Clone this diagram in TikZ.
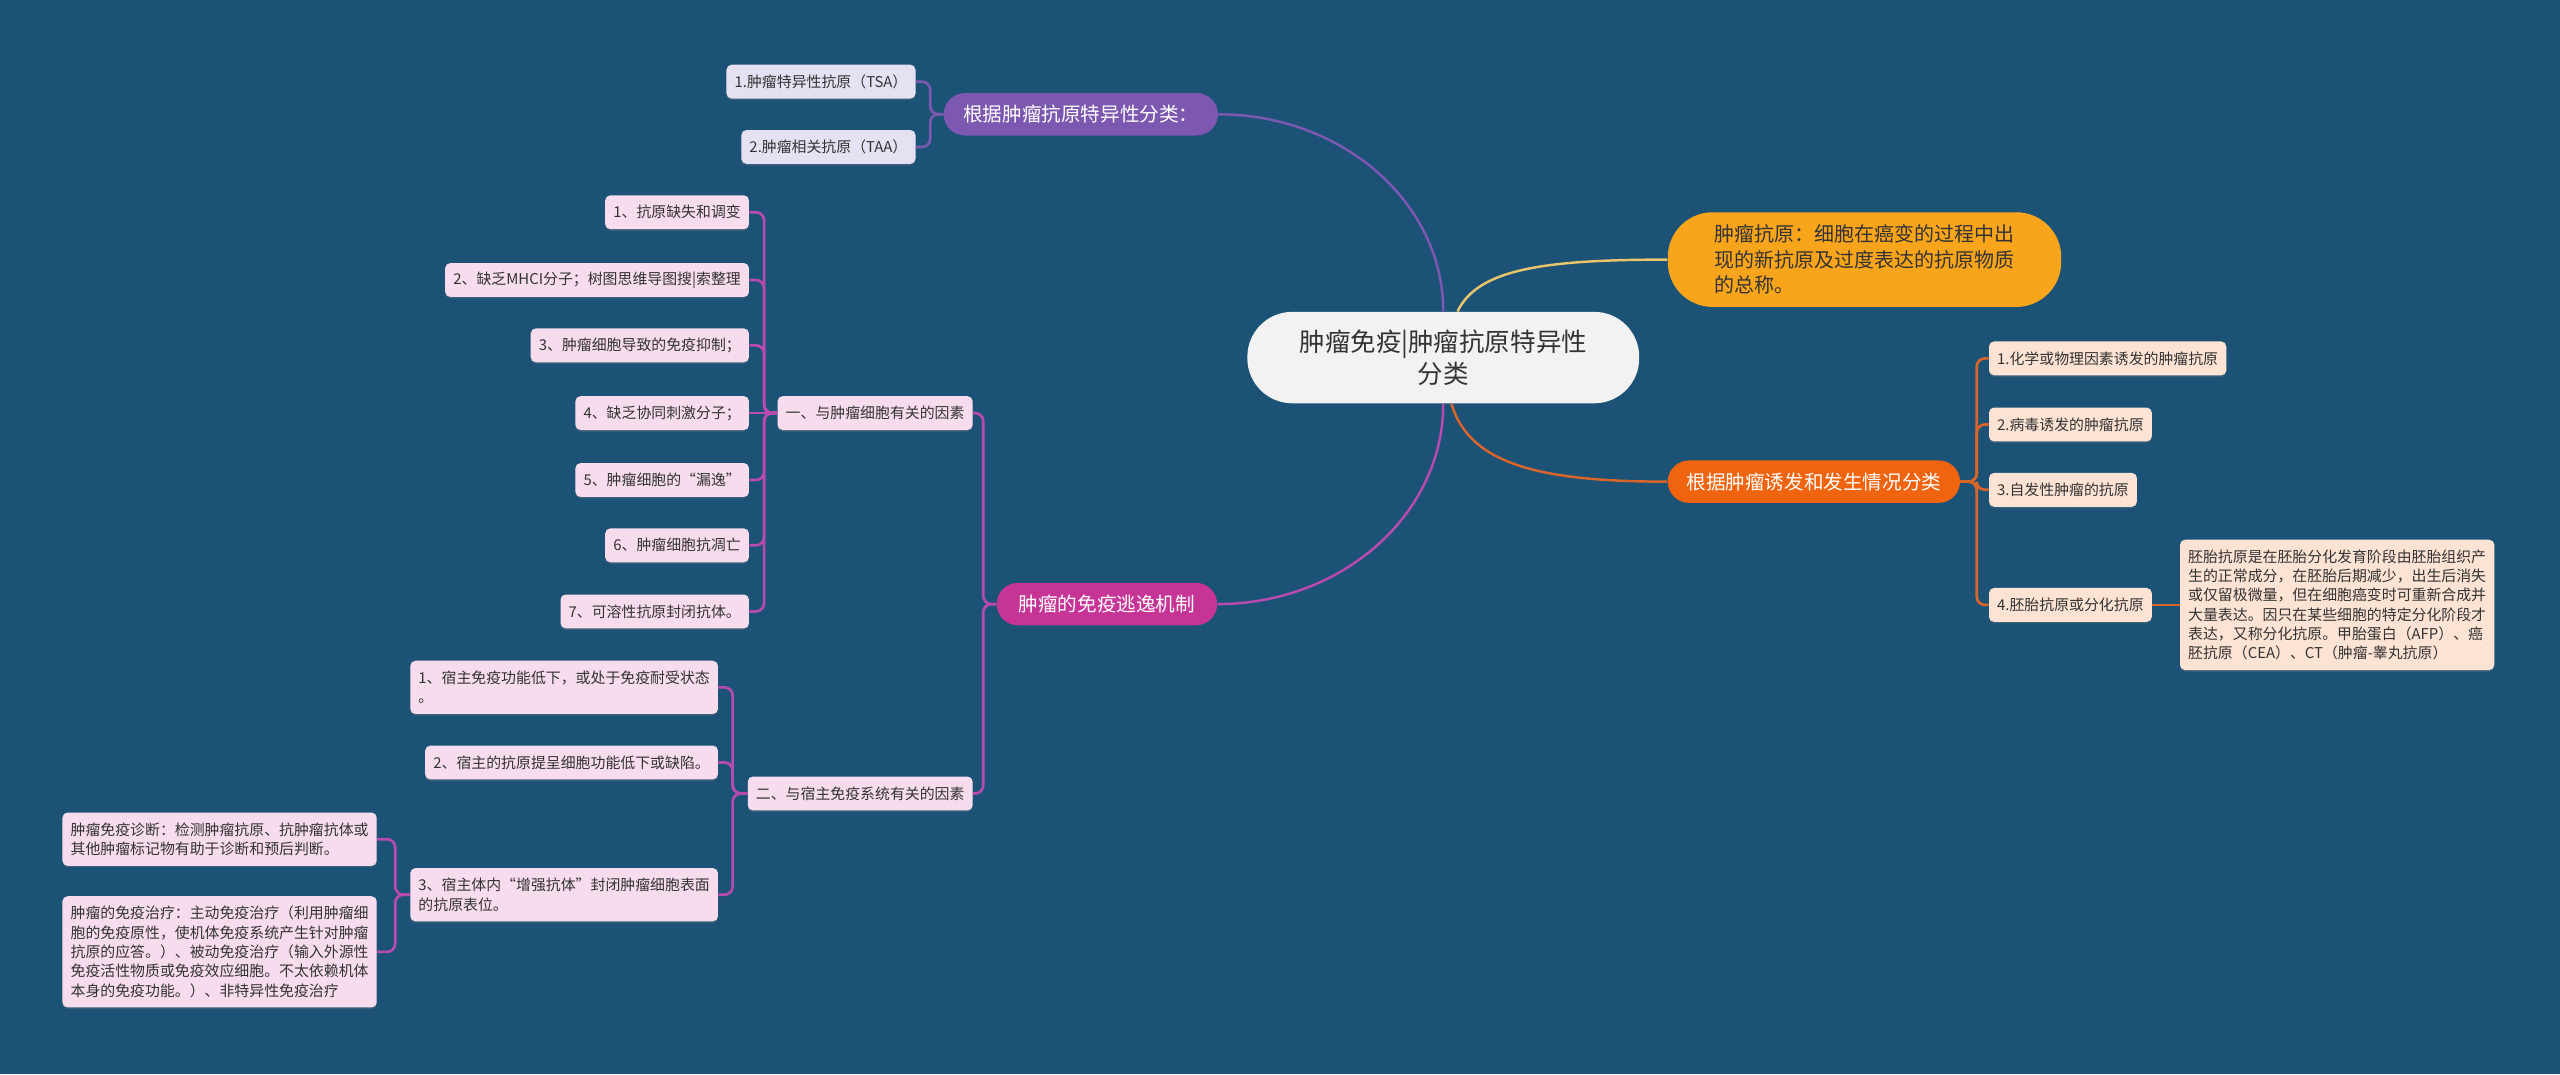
\documentclass[tikz,border=0pt]{standalone}
\usepackage{fontspec}
\newfontfamily\cjk{Noto Sans CJK SC}
\usetikzlibrary{shadows}
\definecolor{MapBack}{HTML}{1B5276}
\definecolor{MapText}{HTML}{333333}
\definecolor{RootFill}{HTML}{F2F2F2}
\definecolor{DefFill}{HTML}{F9A51B}
\definecolor{GoldLine}{HTML}{E8C56A}
\definecolor{PurMain}{HTML}{7D58B0}
\definecolor{PurBack}{HTML}{E6E0F3}
\definecolor{OraMain}{HTML}{F0640F}
\definecolor{OraLine}{HTML}{D9652A}
\definecolor{OraBack}{HTML}{FDE3D4}
\definecolor{MagMain}{HTML}{C63596}
\definecolor{MagLine}{HTML}{B94AB0}
\definecolor{MagBack}{HTML}{F7DCEE}
\tikzset{leaf/.style={fill=#1,rounded corners=2.5pt,text=MapText,align=left,
 font=\cjk\fontsize{7.3pt}{9.45pt}\selectfont,inner xsep=4pt,inner ysep=0pt,minimum height=16.6pt,
 drop shadow={shadow xshift=0pt,shadow yshift=-0.8pt,opacity=0.3}},
 branch/.style={rounded corners=10.4pt,text=white,font=\cjk\fontsize{9.6pt}{12pt}\selectfont,
 minimum height=20.8pt,inner xsep=0pt},
 link/.style={line width=1.3pt,rounded corners=4pt}}
\begin{document}
\begin{tikzpicture}[x=0.8pt,y=-0.8pt]
\fill[MapBack] (0,0) rectangle (1568,658);
\useasboundingbox (0,0) rectangle (1568,658);
\node[fill=RootFill,rounded corners=22pt,minimum width=192pt,minimum height=44.8pt,align=center,
 text=MapText,font=\cjk\fontsize{12.5pt}{16pt}\selectfont] (root) at (884,219) {肿瘤免疫|肿瘤抗原特异性\\分类};
\node[fill=DefFill,rounded corners=22pt,minimum width=192.8pt,minimum height=46.4pt,align=left,
 text=MapText,font=\cjk\fontsize{9.8pt}{12.4pt}\selectfont] (def) at (1142,159)
 {肿瘤抗原：细胞在癌变的过程中出\\现的新抗原及过度表达的抗原物质\\的总称。};
\node[branch,fill=PurMain,minimum width=134.4pt] (pu) at (662,70) {根据肿瘤抗原特异性分类：};
\node[branch,fill=OraMain,minimum width=143.2pt] (ob) at (1111,295) {根据肿瘤诱发和发生情况分类};
\node[branch,fill=MagMain,minimum width=108pt] (mg) at (678,370) {肿瘤的免疫逃逸机制};
\foreach \n/\y/\txt in {t1/50/{1.肿瘤特异性抗原（TSA）},t2/90/{2.肿瘤相关抗原（TAA）}}
 \node[leaf=PurBack,anchor=east] (\n) at (561,\y) {\txt};
\foreach \n/\y/\txt in {r1/219.5/{1.化学或物理因素诱发的肿瘤抗原},r2/260/{2.病毒诱发的肿瘤抗原},
 r3/300/{3.自发性肿瘤的抗原},r4/370.5/{4.胚胎抗原或分化抗原}}
 \node[leaf=OraBack,anchor=west] (\n) at (1218,\y) {\txt};
\node[leaf=OraBack,anchor=west,minimum height=63.9pt] (rd) at (1335,370.5)
 {胚胎抗原是在胚胎分化发育阶段由胚胎组织产\\生的正常成分，在胚胎后期减少，出生后消失\\或仅留极微量，但在细胞癌变时可重新合成并\\大量表达。因只在某些细胞的特定分化阶段才\\表达，又称分化抗原。甲胎蛋白（AFP）、癌\\胚抗原（CEA）、CT（肿瘤-睾丸抗原）};
\node[leaf=MagBack,anchor=east] (f0) at (596,253) {一、与肿瘤细胞有关的因素};
\foreach \n/\y/\txt in {f1/130/{1、抗原缺失和调变},f2/171.5/{2、缺乏MHCI分子；树图思维导图搜|索整理},
 f3/211.5/{3、肿瘤细胞导致的免疫抑制；},f4/253/{4、缺乏协同刺激分子；},f5/294/{5、肿瘤细胞的“漏逸”},
 f6/334/{6、肿瘤细胞抗凋亡},f7/374.5/{7、可溶性抗原封闭抗体。}}
 \node[leaf=MagBack,anchor=east] (\n) at (459,\y) {\txt};
\node[leaf=MagBack,anchor=east] (h0) at (596,486) {二、与宿主免疫系统有关的因素};
\node[leaf=MagBack,anchor=east,minimum height=26.1pt] (h1) at (440,421) {1、宿主免疫功能低下，或处于免疫耐受状态\\。};
\node[leaf=MagBack,anchor=east] (h2) at (440,467) {2、宿主的抗原提呈细胞功能低下或缺陷。};
\node[leaf=MagBack,anchor=east,minimum height=26.1pt] (h3) at (440,548) {3、宿主体内“增强抗体”封闭肿瘤细胞表面\\的抗原表位。};
\node[leaf=MagBack,anchor=east,minimum height=26.1pt] (d1) at (231,514)
 {肿瘤免疫诊断：检测肿瘤抗原、抗肿瘤抗体或\\其他肿瘤标记物有助于诊断和预后判断。};
\node[leaf=MagBack,anchor=east,minimum height=54.5pt] (d2) at (231,583)
 {肿瘤的免疫治疗：主动免疫治疗（利用肿瘤细\\胞的免疫原性，使机体免疫系统产生针对肿瘤\\抗原的应答。）、被动免疫治疗（输入外源性\\免疫活性物质或免疫效应细胞。不太依赖机体\\本身的免疫功能。）、非特异性免疫治疗};
\draw[PurMain,line width=1.2pt] (root.north) .. controls (884,124) and (822,70) .. (pu.east);
\draw[MagLine,line width=1.2pt] (root.south) .. controls (884,315) and (822,370) .. (mg.east);
\draw[GoldLine,line width=1.2pt] ([xshift=7pt]root.north) .. controls (905,165) and (945,159) .. (def.west);
\draw[OraLine,line width=1.2pt] ([xshift=4pt]root.south) .. controls (900,285) and (945,295) .. (ob.west);
\foreach \c in {t1,t2} \draw[link,PurMain] (pu.west) -- ++(-8,0) |- (\c.east);
\foreach \c in {f0,h0} \draw[link,MagLine] (mg.west) -- ++(-8,0) |- (\c.east);
\foreach \c in {f1,f2,f3,f5,f6,f7} \draw[link,MagLine] (f0.west) -- ++(-8,0) |- (\c.east);
\draw[link,MagLine] (f0.west) -- (f4.east);
\foreach \c in {h1,h2,h3} \draw[link,MagLine] (h0.west) -- ++(-9,0) |- (\c.east);
\foreach \c in {d1,d2} \draw[link,MagLine] (h3.west) -- ++(-9,0) |- (\c.east);
\foreach \c in {r1,r2,r3,r4} \draw[link,OraLine] (ob.east) -- ++(10,0) |- (\c.west);
\draw[link,OraLine] (r4.east) -- (rd.west);
\end{tikzpicture}
\end{document}
